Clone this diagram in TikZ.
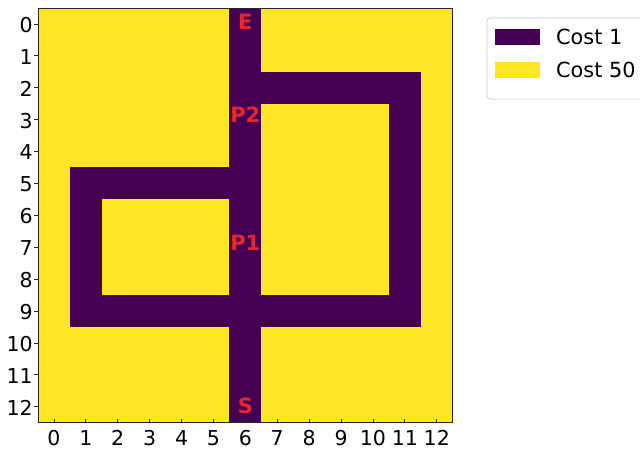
\documentclass[tikz,border=0pt]{standalone}
\usepackage{fontspec}
\setmainfont{DejaVu Sans}
\definecolor{costone}{HTML}{440154}
\definecolor{costfifty}{HTML}{FDE725}
\definecolor{lblred}{RGB}{232,38,45}
\tikzset{
  cellone/.style={fill=costone},
  tickline/.style={line width=0.8pt, draw=black!85},
  ticklbl/.style={inner sep=0pt, font=\fontsize{20.5}{20.5}\selectfont},
  pathlbl/.style={inner sep=0pt, text=lblred, font=\fontsize{21}{21}\selectfont\bfseries},
  legtext/.style={inner sep=0pt, anchor=west, font=\fontsize{20.8}{20.8}\selectfont},
}
\begin{document}
\begin{tikzpicture}[x=1pt,y=-1pt]
\useasboundingbox (0,0) rectangle (640,449);
\begin{scope}[shift={(38,8)}, x=31.9pt, y=-31.9pt]
  \fill[costfifty] (0,0) rectangle (13,13);
  \fill[cellone] (6,0) rectangle (7,13);
  \fill[cellone] (7,2) rectangle (12,3);
  \fill[cellone] (11,2) rectangle (12,10);
  \fill[cellone] (1,9) rectangle (12,10);
  \fill[cellone] (1,5) rectangle (2,10);
  \fill[cellone] (1,5) rectangle (6,6);
  \draw[line width=0.8pt, draw=black!85] (0,0) rectangle (13,13);
  \foreach \i in {0,...,12} {
    \draw[tickline] (\i+0.5,13) -- ++(0,-0.13);
    \draw[tickline] (0,\i+0.5) -- ++(-0.13,0);
    \node[ticklbl, anchor=base] (xl\i) at (\i+0.5,13.7) {\i};
    \node[ticklbl, anchor=east] (yl\i) at (-0.16,\i+0.53) {\i};
  }
  \node[pathlbl] (lE) at (6.5,0.44) {E};
  \node[pathlbl] (lP2) at (6.5,3.36) {P2};
  \node[pathlbl] (lP1) at (6.5,7.37) {P1};
  \node[pathlbl] (lS) at (6.5,12.47) {S};
\end{scope}
\draw[rounded corners=3pt, draw=black!20, fill=white, line width=0.8pt] (487,18) rectangle (660,99);
\fill[costone] (495,29) rectangle (540,45);
\fill[costfifty] (495,62) rectangle (540,78);
\node[legtext] (leg1) at (556,37) {Cost 1};
\node[legtext] (leg2) at (556,70) {Cost 50};
\end{tikzpicture}
\end{document}
